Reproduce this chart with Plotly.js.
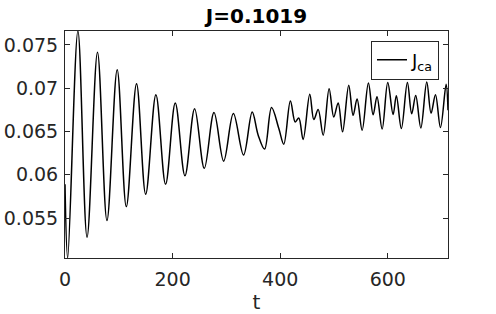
<!DOCTYPE html>
<html>
<head>
<meta charset="utf-8">
<script src="https://cdn.plot.ly/plotly-3.0.1.min.js"></script>
<style>html,body{margin:0;padding:0;background:#fff}#plot{width:496px;height:314px}</style>
</head>
<body>
<div id="plot"></div>
<script>
// time values (t) at read-off key points
var t = [0, 5, 24, 41, 60.4, 78, 97, 114, 133, 150, 169, 187, 205, 223, 241, 259, 277, 295, 313, 332,
         348, 359, 371, 384, 397.5, 406.7, 419, 428, 434.6, 442.7, 455, 462.6, 470.6, 480, 491, 499.6, 507.8, 516,
         527.5, 535.6, 543, 552.4, 564, 572.8, 580, 589.6, 600, 610, 616, 625.3, 636.5, 644.5, 652, 661.5,
         672.5, 680.5, 688.7, 698, 708.5, 712];
// J_ca values
var jca = [0.0589, 0.0504, 0.0766, 0.0528, 0.07415, 0.05472, 0.07213, 0.05633, 0.07052, 0.05776, 0.06925, 0.05891,
           0.06829, 0.0599, 0.06764, 0.06075, 0.06718, 0.06158, 0.06707, 0.06228,
           0.06725, 0.0646, 0.06297, 0.06776, 0.06534, 0.06354, 0.06852, 0.0661, 0.06656, 0.06408, 0.06929, 0.06638,
           0.06753, 0.06458, 0.06994, 0.06668, 0.06829, 0.06496,
           0.07035, 0.06687, 0.06875, 0.06515, 0.0706, 0.06693, 0.069, 0.06528, 0.07065, 0.06697, 0.06912, 0.06534,
           0.07065, 0.06705, 0.06915, 0.06541, 0.0707, 0.06712, 0.06925, 0.06546, 0.07044, 0.06745];
var xTicks = [0, 200, 400, 600];
var yTicks = [0.055, 0.06, 0.065, 0.07, 0.075];
var yTickLabels = ['0.055', '0.06', '0.065', '0.07', '0.075'];
var titleText = 'J=0.1019';
var seriesName = 'J<sub>ca</sub>';

var axisColor = '#262626';
var trace = {
  x: t, y: jca, type: 'scatter', mode: 'lines', name: seriesName,
  line: {color: '#000000', width: 1.5, shape: 'spline', smoothing: 1}
};
var layout = {
  width: 496, height: 314,
  margin: {l: 64.5, r: 48, t: 30.5, b: 56},
  paper_bgcolor: '#ffffff', plot_bgcolor: '#ffffff',
  font: {family: 'DejaVu Sans', color: axisColor},
  title: {text: '<b>' + titleText + '</b>', font: {size: 20, color: '#000000', family: 'DejaVu Sans'},
          x: 0.5, xref: 'paper', xanchor: 'center', y: 1, yref: 'paper', yanchor: 'bottom', pad: {b: 8}},
  showlegend: true,
  legend: {x: 0.9765, y: 0.958, xanchor: 'right', yanchor: 'top', bgcolor: '#ffffff',
           bordercolor: '#262626', borderwidth: 1, font: {size: 18, color: '#000000'}},
  xaxis: {
    range: [0, 712], tickvals: xTicks, ticks: 'inside', ticklen: 5, tickcolor: axisColor,
    showline: true, linecolor: axisColor, linewidth: 1, mirror: 'ticks', showgrid: false, zeroline: false,
    tickfont: {size: 19, color: axisColor}, ticklabelstandoff: 4,
    title: {text: 't', font: {size: 20, color: axisColor}, standoff: 6}
  },
  yaxis: {
    range: [0.0504, 0.0766], tickvals: yTicks, ticktext: yTickLabels, ticks: 'inside', ticklen: 5, tickcolor: axisColor,
    showline: true, linecolor: axisColor, linewidth: 1, mirror: 'ticks', showgrid: false, zeroline: false,
    tickfont: {size: 19, color: axisColor}, ticklabelstandoff: 2
  }
};
Plotly.newPlot('plot', [trace], layout, {displayModeBar: false, staticPlot: true});
</script>
</body>
</html>
